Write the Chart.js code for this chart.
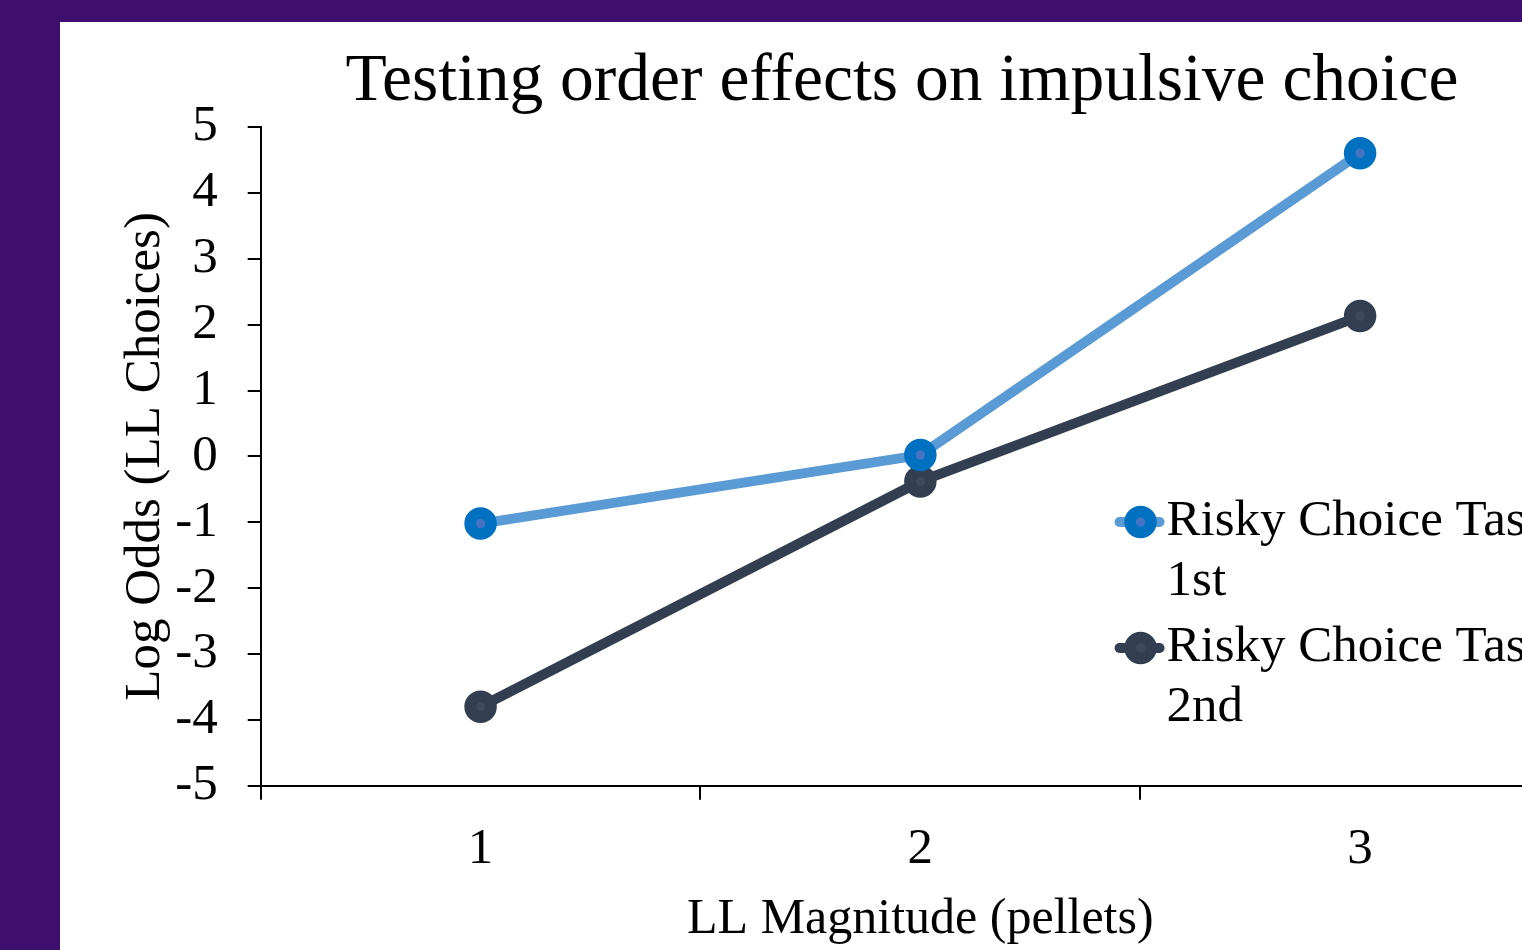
<!DOCTYPE html>
<html>
<head>
<meta charset="utf-8">
<script src="https://cdn.jsdelivr.net/npm/chart.js@4"></script>
<style>
  html, body { margin: 0; padding: 0; width: 1522px; height: 950px; overflow: hidden; background: #3f0f6e; }
  #panel { position: absolute; left: 60px; top: 22px; width: 1684px; height: 928px; background: #fff; }
  #chart { display: block; }
</style>
</head>
<body>
<div id="panel"><canvas id="chart" width="1684" height="928"></canvas></div>
<script>
// data
const categories = ["1", "2", "3"];
const seriesNames = ["Risky Choice Task 1st", "Risky Choice Task 2nd"];
const firstValues = [-1.02, 0.02, 4.6];
const secondValues = [-3.8, -0.38, 2.13];
const yTicks = [-5, -4, -3, -2, -1, 0, 1, 2, 3, 4, 5];
const chartTitle = "Testing order effects on impulsive choice";

const FONT = "'Liberation Serif', 'Times New Roman', serif";

// title + legend drawn by hand: the title is centred on the whole slide, the legend sits inside the plot
const overlayPlugin = {
  id: "overlay",
  afterDatasetsDraw(chart) {
    const ctx = chart.ctx;
    const a = chart.chartArea;
    ctx.save();

    ctx.font = "67.5px " + FONT;
    ctx.fillStyle = "#000";
    ctx.textAlign = "center";
    ctx.textBaseline = "alphabetic";
    ctx.fillText(chartTitle, 842, 78);

    const x0 = a.left + (a.right - a.left) * 0.651;
    const rows = [
      { y: a.top + 395, lines: ["Risky Choice Task", "1st"], ds: chart.data.datasets[0] },
      { y: a.top + 521, lines: ["Risky Choice Task", "2nd"], ds: chart.data.datasets[1] }
    ];
    ctx.font = "51px " + FONT;
    ctx.textAlign = "left";
    ctx.textBaseline = "middle";
    rows.forEach(r => {
      ctx.strokeStyle = r.ds.borderColor;
      ctx.lineWidth = 10;
      ctx.lineCap = "round";
      ctx.beginPath();
      ctx.moveTo(x0, r.y);
      ctx.lineTo(x0 + 40, r.y);
      ctx.stroke();
      ctx.beginPath();
      ctx.arc(x0 + 21, r.y, 10.5, 0, Math.PI * 2);
      ctx.fillStyle = r.ds.pointBackgroundColor;
      ctx.fill();
      ctx.lineWidth = 11.5;
      ctx.strokeStyle = r.ds.pointBorderColor;
      ctx.stroke();
      ctx.fillStyle = "#000";
      ctx.fillText(r.lines[0], x0 + 47, r.y);
      ctx.fillText(r.lines[1], x0 + 47, r.y + 60);
    });
    ctx.restore();
  }
};

new Chart(document.getElementById("chart"), {
  type: "line",
  data: {
    labels: categories,
    datasets: [
      {
        label: seriesNames[0],
        data: firstValues,
        borderColor: "#5b9bd5",
        borderWidth: 10,
        pointRadius: 10.5,
        pointBorderWidth: 11.5,
        pointBorderColor: "#0070c0",
        pointBackgroundColor: "#4472c4",
        tension: 0
      },
      {
        label: seriesNames[1],
        data: secondValues,
        borderColor: "#333f50",
        borderWidth: 10,
        pointRadius: 10.5,
        pointBorderWidth: 11.5,
        pointBorderColor: "#333f50",
        pointBackgroundColor: "#3d4a5e",
        tension: 0
      }
    ]
  },
  options: {
    responsive: false,
    animation: false,
    layout: { padding: { left: 55, right: 164, top: 105, bottom: 0 } },
    plugins: {
      legend: { display: false },
      tooltip: { enabled: false },
      title: { display: false }
    },
    scales: {
      x: {
        offset: true,
        grid: { offset: true, drawOnChartArea: false, color: "#000", tickLength: 14, lineWidth: 2 },
        border: { color: "#000", width: 2 },
        ticks: { color: "#000", font: { family: FONT, size: 51 }, padding: 19 },
        title: {
          display: true,
          text: "LL Magnitude (pellets)",
          color: "#000",
          font: { family: FONT, size: 50 },
          padding: { top: -9, bottom: 0 }
        }
      },
      y: {
        min: -5,
        max: 5,
        afterBuildTicks(scale) { scale.ticks = yTicks.map(v => ({ value: v })); },
        grid: { drawOnChartArea: false, color: "#000", tickLength: 13, lineWidth: 2 },
        border: { color: "#000", width: 2 },
        ticks: { color: "#000", font: { family: FONT, size: 51 }, padding: 30 },
        title: {
          display: true,
          text: "Log Odds (LL Choices)",
          color: "#000",
          font: { family: FONT, size: 51 },
          padding: { top: 0, bottom: -31 }
        }
      }
    }
  },
  plugins: [overlayPlugin]
});
</script>
</body>
</html>
